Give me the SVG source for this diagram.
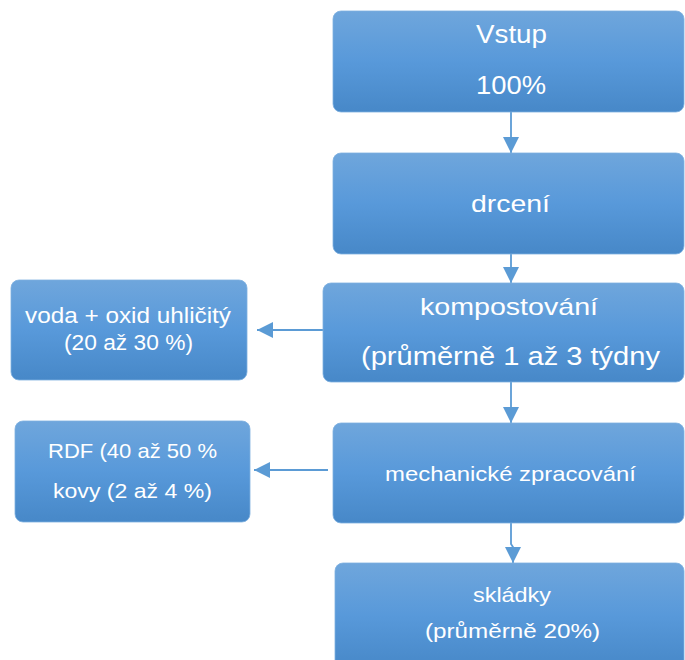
<svg xmlns="http://www.w3.org/2000/svg" width="685" height="660" viewBox="0 0 685 660">
<defs>
<linearGradient id="g" x1="0" y1="0" x2="0" y2="1">
<stop offset="0" stop-color="#6fa6dc"/>
<stop offset="0.5" stop-color="#5899da"/>
<stop offset="1" stop-color="#4788c8"/>
</linearGradient>
<marker id="ah" viewBox="0 0 16 16" refX="16" refY="8" markerWidth="16" markerHeight="16" markerUnits="userSpaceOnUse" orient="auto">
<path d="M0 0 L16 8 L0 16 Z" fill="#5b9bd5"/>
</marker>
<style>
.box{fill:url(#g);stroke:#7eb0e0;stroke-width:0.8}
.t{fill:#ffffff;font-family:"Liberation Sans",Arial,sans-serif}
.c{stroke:#5b9bd5;stroke-width:1.8;fill:none;marker-end:url(#ah)}
</style>
</defs>
<rect width="685" height="660" fill="#ffffff"/>
<g id="connectors">
<line class="c" x1="511" y1="112" x2="511" y2="153"/>
<line class="c" x1="511" y1="254" x2="511" y2="283"/>
<line class="c" x1="511" y1="382" x2="511" y2="423"/>
<line class="c" x1="323" y1="330" x2="257" y2="330"/>
<line class="c" x1="328" y1="470" x2="254" y2="470"/>
<path class="c" d="M511 523 L511 544 L513 547 L513 563"/>
</g>
<g id="vstup">
<rect class="box" x="333" y="11" width="351" height="101" rx="8"/>
<text class="t" x="476" y="43" font-size="25" textLength="71" lengthAdjust="spacingAndGlyphs">Vstup</text>
<text class="t" x="476" y="94" font-size="25" textLength="70" lengthAdjust="spacingAndGlyphs">100%</text>
</g>
<g id="drceni">
<rect class="box" x="333" y="153" width="351" height="101" rx="8"/>
<text class="t" x="471" y="212" font-size="24" textLength="79" lengthAdjust="spacingAndGlyphs">drcení</text>
</g>
<g id="kompostovani">
<rect class="box" x="323" y="283" width="361" height="99" rx="8"/>
<text class="t" x="420" y="315" font-size="24" textLength="178" lengthAdjust="spacingAndGlyphs">kompostování</text>
<text class="t" x="361" y="365" font-size="26" textLength="299" lengthAdjust="spacingAndGlyphs">(průměrně 1 až 3 týdny</text>
</g>
<g id="voda">
<rect class="box" x="11" y="280" width="236" height="100" rx="8"/>
<text class="t" x="25" y="323" font-size="22" textLength="206" lengthAdjust="spacingAndGlyphs">voda + oxid uhličitý</text>
<text class="t" x="64" y="350" font-size="22" textLength="129" lengthAdjust="spacingAndGlyphs">(20 až 30 %)</text>
</g>
<g id="mechanicke">
<rect class="box" x="333" y="423" width="351" height="100" rx="8"/>
<text class="t" x="385" y="481" font-size="21" textLength="251" lengthAdjust="spacingAndGlyphs">mechanické zpracování</text>
</g>
<g id="rdf">
<rect class="box" x="15" y="421" width="235" height="101" rx="8"/>
<text class="t" x="48" y="458" font-size="21" textLength="169" lengthAdjust="spacingAndGlyphs">RDF (40 až 50 %</text>
<text class="t" x="53" y="498" font-size="21" textLength="159" lengthAdjust="spacingAndGlyphs">kovy (2 až 4 %)</text>
</g>
<g id="skladky">
<rect class="box" x="335" y="563" width="349" height="105" rx="8"/>
<text class="t" x="473" y="602" font-size="21" textLength="78" lengthAdjust="spacingAndGlyphs">skládky</text>
<text class="t" x="425" y="638" font-size="21" textLength="175" lengthAdjust="spacingAndGlyphs">(průměrně 20%)</text>
</g>
</svg>
